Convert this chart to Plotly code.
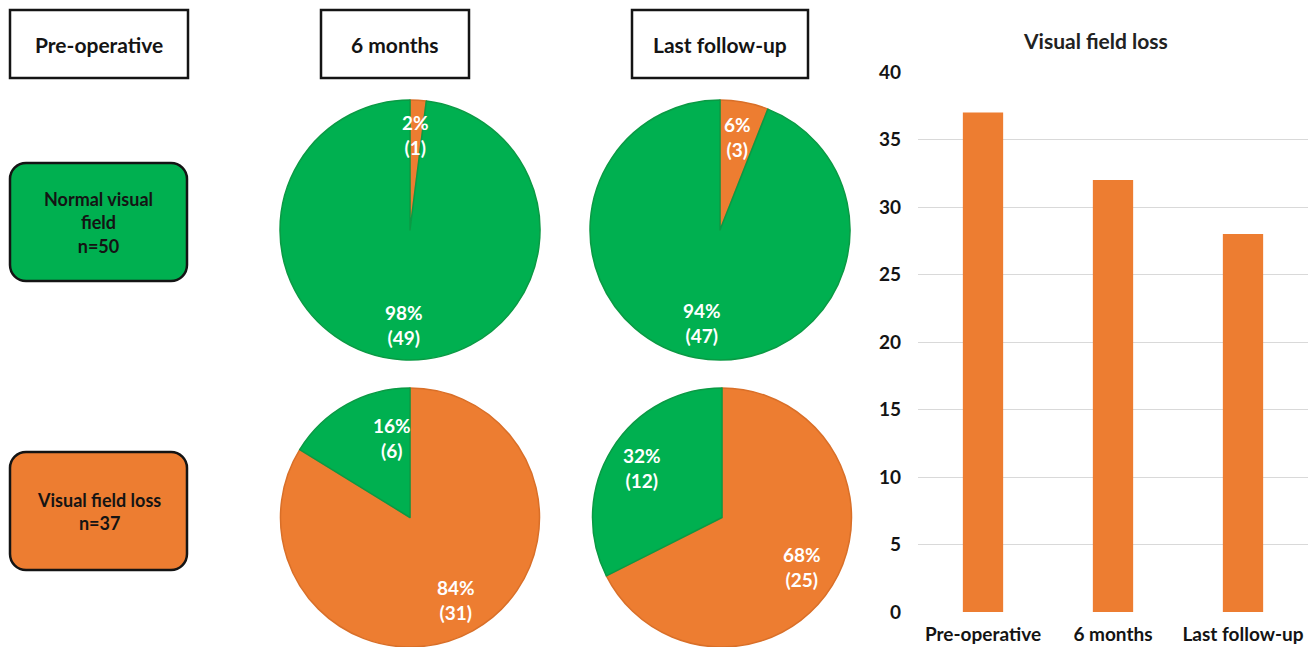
import math
import plotly.graph_objects as go

W, H = 1314, 647

# ---- data ----
stages = ["Pre-operative", "6 months", "Last follow-up"]
group_labels = ["Normal visual<br>field<br>n=50", "Visual field loss<br>n=37"]

# counts per pie, ordered [visual field loss, normal visual field]
normal_6m = [1, 49]
normal_last = [3, 47]
loss_6m = [31, 6]
loss_last = [25, 12]

bar_values = [37, 32, 28]
y_ticks = [0, 5, 10, 15, 20, 25, 30, 35, 40]

ORANGE = "#ED7D31"
GREEN = "#00B050"
ORANGE_EDGE = "#D96F28"
GREEN_EDGE = "#0A9A44"
FONT = "Lato"
INK = "#141414"


def px(x):
    return x / W


def py(y):
    return 1 - y / H


fig = go.Figure()

# pies: (values, centre x, centre y, radius) in pixels
pies = [
    (normal_6m, 410, 230, 130),
    (normal_last, 720, 230, 130),
    (loss_6m, 410, 517.5, 129.5),
    (loss_last, 722, 517.5, 129.5),
]

annotations = []
for i, (vals, cx, cy, r) in enumerate(pies):
    fig.add_trace(go.Pie(
        values=vals,
        labels=["Visual field loss", "Normal visual field"],
        sort=False,
        direction="clockwise",
        rotation=0,
        textinfo="none",
        hoverinfo="label+value+percent",
        marker=dict(colors=[ORANGE, GREEN],
                    line=dict(color=[ORANGE_EDGE, GREEN_EDGE], width=1.5)),
        domain=dict(x=[px(cx - r), px(cx + r)], y=[py(cy + r), py(cy - r)]),
        showlegend=False,
    ))
    total = sum(vals)
    start = 0.0
    for j, v in enumerate(vals):
        frac = v / total
        mid = (start + frac / 2) * 360
        dist = 0.73 * r
        if i == 2 and j == 1:
            # small slice of the lower pie sits closer to 12 o'clock
            mid, dist = 347, 82
        start += frac
        lx = cx + dist * math.sin(math.radians(mid))
        ly = cy - dist * math.cos(math.radians(mid))
        annotations.append(dict(
            x=px(lx), y=py(ly), xref="paper", yref="paper",
            text=f"{round(frac * 100)}%<br>({v})", showarrow=False,
            font=dict(family=FONT, size=19, color="white", weight="bold"),
            xanchor="center", yanchor="middle",
        ))

# bar chart
fig.add_trace(go.Bar(
    x=stages, y=bar_values, marker=dict(color=ORANGE, line=dict(width=0)),
    width=0.31, xaxis="x", yaxis="y", showlegend=False,
))

shapes = []
# header boxes
for (x0, x1), label in zip([(10, 188), (321, 469), (632, 808)], stages):
    shapes.append(dict(type="rect", xref="paper", yref="paper",
                       x0=px(x0), x1=px(x1), y0=py(78), y1=py(10),
                       line=dict(color=INK, width=2.5), fillcolor="white"))
    annotations.append(dict(x=px((x0 + x1) / 2), y=py(44), xref="paper", yref="paper",
                            text=label, showarrow=False,
                            xanchor="center", yanchor="middle",
                            font=dict(family=FONT, size=21, color=INK, weight="bold")))


def rounded(x0, y0, x1, y1, rad):
    k = 0.5523 * rad

    def P(x, y):
        return f"{px(x):.5f},{py(y):.5f}"
    path = f"M {P(x0 + rad, y0)} L {P(x1 - rad, y0)} "
    path += f"C {P(x1 - rad + k, y0)} {P(x1, y0 + rad - k)} {P(x1, y0 + rad)} "
    path += f"L {P(x1, y1 - rad)} "
    path += f"C {P(x1, y1 - rad + k)} {P(x1 - rad + k, y1)} {P(x1 - rad, y1)} "
    path += f"L {P(x0 + rad, y1)} "
    path += f"C {P(x0 + rad - k, y1)} {P(x0, y1 - rad + k)} {P(x0, y1 - rad)} "
    path += f"L {P(x0, y0 + rad)} "
    path += f"C {P(x0, y0 + rad - k)} {P(x0 + rad - k, y0)} {P(x0 + rad, y0)} Z"
    return path


# group boxes
for (y0, y1), label, fill in zip([(163, 281), (452, 570)], group_labels, [GREEN, ORANGE]):
    shapes.append(dict(type="path", xref="paper", yref="paper",
                       path=rounded(10, y0, 187, y1, 16),
                       line=dict(color=INK, width=2.5), fillcolor=fill))
    annotations.append(dict(x=px(98.5), y=py((y0 + y1) / 2), xref="paper", yref="paper",
                            text=label, showarrow=False,
                            xanchor="center", yanchor="middle",
                            font=dict(family=FONT, size=18, color=INK, weight="bold")))

annotations.append(dict(x=px(1095), y=py(40), xref="paper", yref="paper",
                        text="Visual field loss", showarrow=False,
                        xanchor="center", yanchor="middle",
                        font=dict(family=FONT, size=21, color="#222222", weight="bold")))

fig.update_layout(
    width=W, height=H,
    margin=dict(l=0, r=0, t=0, b=0),
    paper_bgcolor="white", plot_bgcolor="white",
    shapes=shapes, annotations=annotations,
    xaxis=dict(domain=[px(918), px(1308)], showgrid=False, showline=False,
               zeroline=False, ticks="", automargin=False,
               tickfont=dict(family=FONT, size=19, color=INK, weight="bold"),
               ticklabelstandoff=9),
    yaxis=dict(domain=[py(612), py(72)], range=[0, 40], tickvals=y_ticks,
               showgrid=True, gridcolor="#D9D9D9", gridwidth=1,
               zeroline=False, showline=False, ticks="", automargin=False,
               tickfont=dict(family=FONT, size=19, color=INK, weight="bold"),
               ticklabelstandoff=16),
)

fig.write_html("out.html")
